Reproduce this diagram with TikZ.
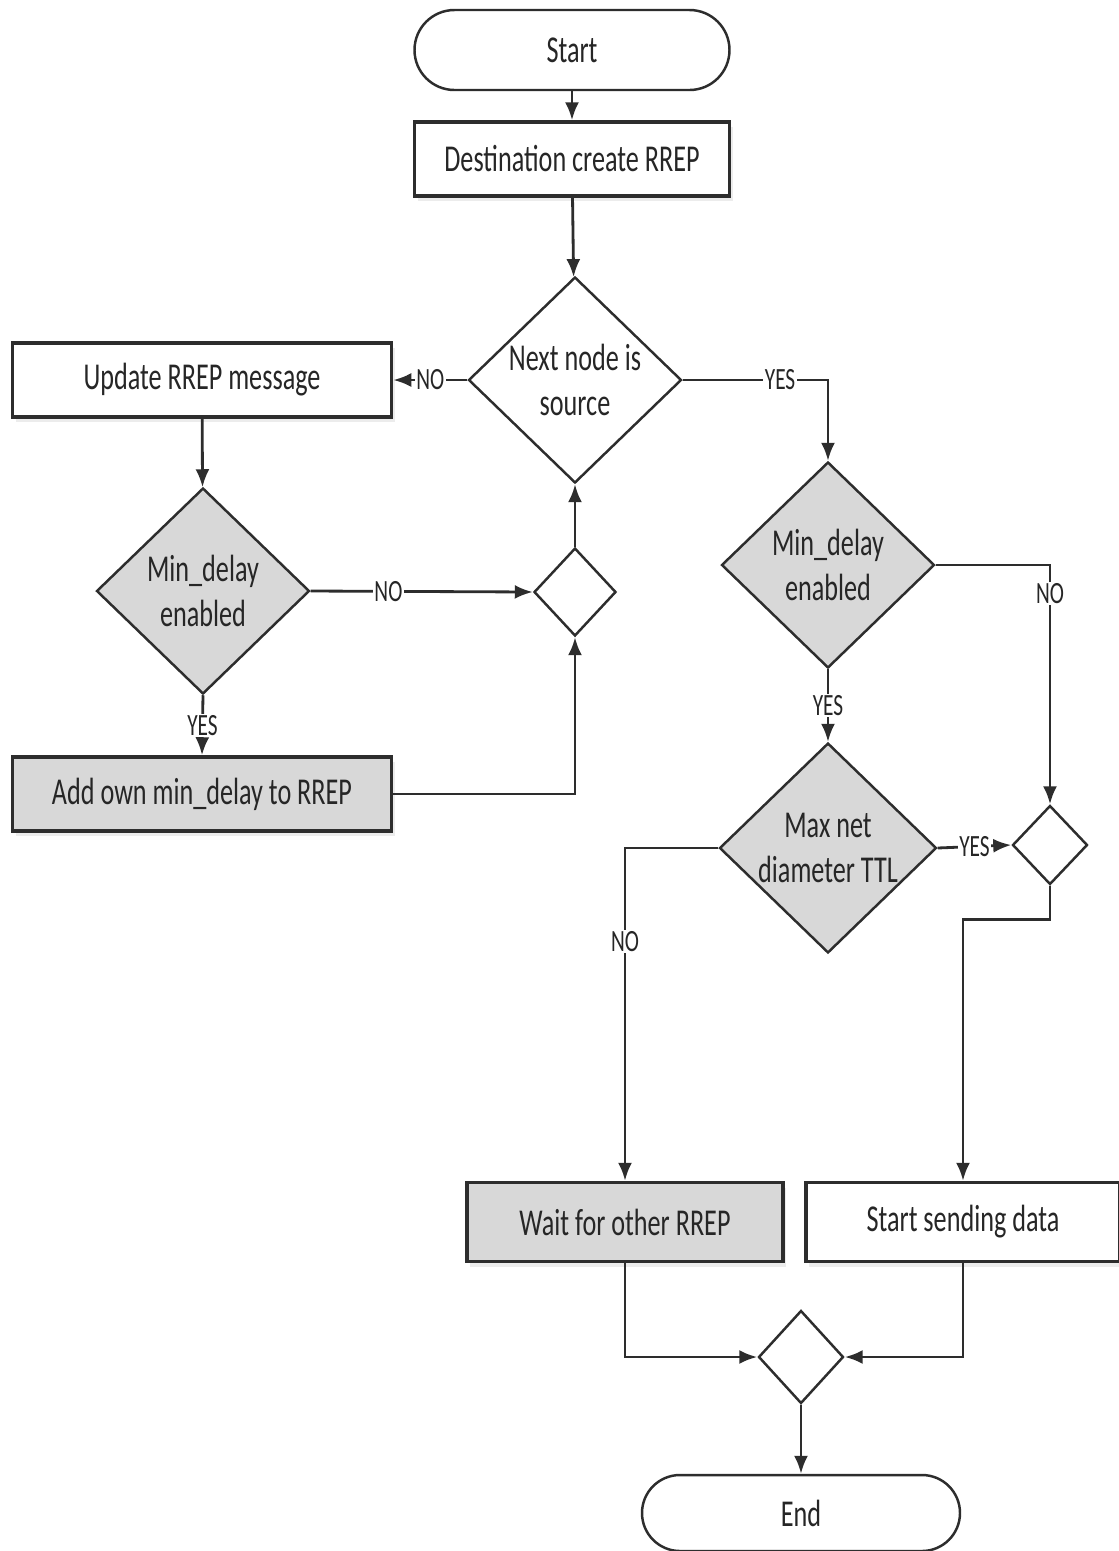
\documentclass[tikz,border=0pt]{standalone}
\usepackage{fontspec}
\setmainfont[FakeStretch=0.69]{Carlito}
\definecolor{boxgray}{RGB}{216,216,216}
\definecolor{linegray}{RGB}{45,45,45}
\usetikzlibrary{shapes.geometric,arrows.meta,positioning,shadows}
\tikzset{
  boxfont/.style={font=\fontsize{10.8}{13}\selectfont, text=black!85},
  terminal/.style={boxfont, draw=linegray, line width=0.7pt, rounded corners=4mm, minimum width=31.5mm, minimum height=8mm},
  procbox/.style={boxfont, draw=linegray, line width=1pt, fill=white, minimum height=7.4mm,
    drop shadow={shadow xshift=0.3mm, shadow yshift=-0.5mm, opacity=0.15}},
  decision/.style={boxfont, diamond, aspect=1, draw=linegray, line width=0.7pt, inner sep=0pt, align=center,
    minimum width=21.3mm, minimum height=20.6mm, fill=boxgray},
  merge/.style={diamond, draw=linegray, line width=0.7pt, inner sep=0pt, minimum width=8.2mm, minimum height=8.8mm},
  flow/.style={draw=linegray, line width=0.8pt, -{Latex[length=1.8mm,width=1.4mm]}},
  lbl/.style={font=\fontsize{8.8}{10}\selectfont, text=black!85, fill=white, inner sep=0.4pt}
}

\begin{document}
\begin{tikzpicture}[x=0.1mm, y=-0.1mm]
  \clip (0,0) rectangle (1119,1551);
  \fill[white] (0,0) rectangle (1119,1551);

  \node[terminal] (start) at (572,50) {Start};
  \node[procbox, minimum width=31.5mm] (dest) at (572,159) {Destination create RREP};

  \node[decision, fill=white] (nextsrc) at (575,380) {Next node is\\source};
  \node[procbox, minimum width=37.9mm] (update) at (202,380) {Update RREP message};

  \node[decision] (mindelL) at (203,591) {Min\_delay\\enabled};
  \node[merge] (mergeL) at (575,592) {};
  \node[procbox, fill=boxgray, minimum width=37.9mm] (addown) at (202,794) {Add own min\_delay to RREP};

  \node[decision] (mindelR) at (828,565) {Min\_delay\\enabled};
  \node[decision, minimum width=21.7mm] (maxttl) at (828,848) {Max net\\diameter TTL};
  \node[merge, minimum width=7.5mm, minimum height=7.9mm] (mergeR) at (1050,845) {};

  \node[procbox, fill=boxgray, minimum width=31.6mm, minimum height=7.9mm] (wait) at (625,1222) {Wait for other RREP};
  \node[procbox, minimum width=31.4mm, minimum height=7.9mm] (send) at (963,1222) {Start sending data};

  \node[merge, minimum width=8.5mm, minimum height=9.3mm] (mergeB) at (801,1357) {};
  \node[terminal, minimum width=31.8mm, minimum height=7.6mm, rounded corners=3.8mm] (finish) at (801,1513) {End};

  \draw[flow] (start) -- (dest);
  \draw[flow] (dest) -- (nextsrc);
  \draw[flow] (nextsrc.west) -- node[lbl]{NO} (update.east);
  \draw[flow] (nextsrc.east) -- node[lbl, pos=0.67]{YES} (nextsrc.east -| mindelR.north) -- (mindelR.north);

  \draw[flow] (update) -- (mindelL);
  \draw[flow] (mindelL.east) -- node[lbl, pos=0.35]{NO} (mergeL.west);
  \draw[flow] (mindelL.south) -- node[lbl]{YES} (addown.north);
  \draw[flow] (addown.east) -| (mergeL.south);
  \draw[flow] (mergeL.north) -- (nextsrc.south);

  \draw[flow] (mindelR.east) -| node[lbl, pos=0.56]{NO} (mergeR.north);
  \draw[flow] (mindelR.south) -- node[lbl]{YES} (maxttl.north);
  \draw[flow] (maxttl.east) -- node[lbl]{YES} (mergeR.west);
  \draw[flow] (maxttl.west) -| node[lbl, pos=0.64]{NO} (wait.north);
  \draw[flow] (mergeR.south) -- ++(0,34) -| (send.north);

  \draw[flow] (wait.south) |- (mergeB.west);
  \draw[flow] (send.south) |- (mergeB.east);
  \draw[flow] (mergeB) -- (finish);

\end{tikzpicture}
\end{document}
